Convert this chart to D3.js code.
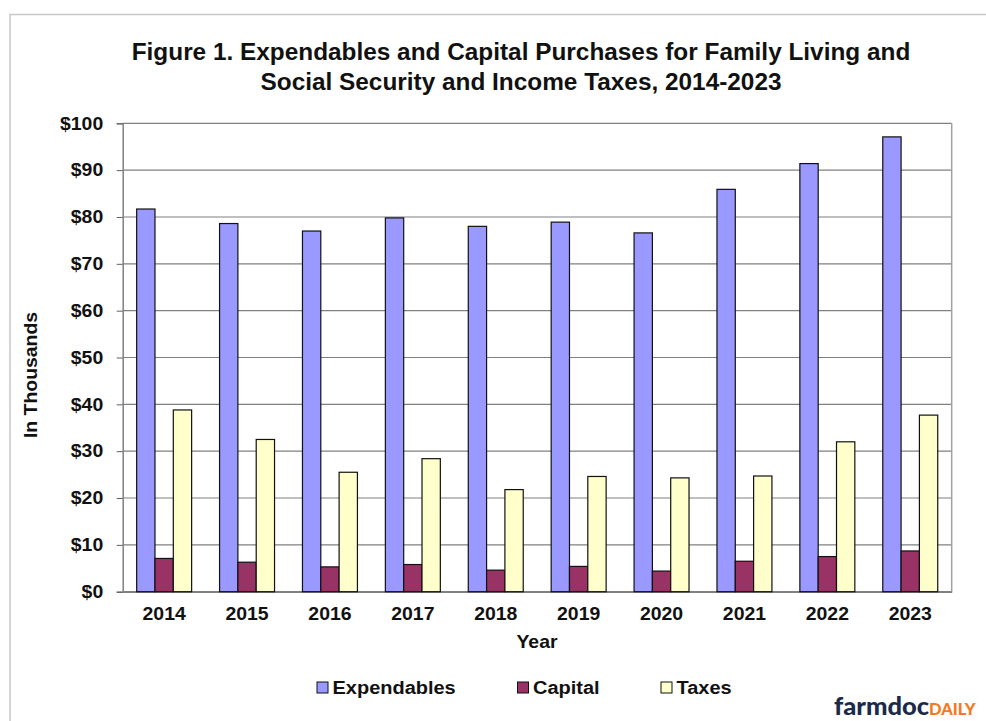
<!DOCTYPE html>
<html>
<head>
<meta charset="utf-8">
<script src="https://cdn.jsdelivr.net/npm/d3@7"></script>
<style>
  body { margin: 0; background: #fff; }
  svg { display: block; font-family: Arial, "Liberation Sans", sans-serif; }
</style>
</head>
<body>
<svg id="chart" width="986" height="721"></svg>
<script>
// data (thousands of dollars)
const years = ['2014', '2015', '2016', '2017', '2018', '2019', '2020', '2021', '2022', '2023']
const seriesNames = ['Expendables', 'Capital', 'Taxes']
const expendables = [81.7, 78.6, 77.0, 79.8, 78.0, 78.9, 76.6, 85.9, 91.4, 97.1]
const capital = [7.1, 6.3, 5.3, 5.8, 4.6, 5.4, 4.4, 6.5, 7.5, 8.7]
const taxes = [38.8, 32.5, 25.5, 28.4, 21.8, 24.6, 24.3, 24.7, 32.0, 37.7]
const yTicks = [0, 10, 20, 30, 40, 50, 60, 70, 80, 90, 100]
const colors = ['#9999ff', '#993366', '#ffffcc']

const values = [expendables, capital, taxes]
const rows = years.map((year, i) => ({
    year,
    bars: seriesNames.map((name, s) => ({ name, value: values[s][i] }))
}))

const plotLeft = 122.7, plotRight = 951.7, plotTop = 123.3, plotBottom = 591.7
const stretch = 1.08 // the source text is a little wider than Liberation Sans

const svg = d3.select('#chart')

// outer frame
svg.append('path')
    .attr('d', 'M10,1000 V14.5 H1000')
    .attr('fill', 'none')
    .attr('stroke', '#c8c8c8')
    .attr('stroke-width', 1.5)

const x0 = d3.scaleBand()
    .domain(years)
    .range([plotLeft, plotRight])
    .paddingInner(0.337)
    .paddingOuter(0.1685)

const x1 = d3.scaleBand()
    .domain(seriesNames)
    .range([0, x0.bandwidth()])

const y = d3.scaleLinear()
    .domain([0, 100])
    .range([plotBottom, plotTop])

const color = d3.scaleOrdinal().domain(seriesNames).range(colors)

// gridlines
svg.append('g')
    .selectAll('line')
    .data(yTicks)
    .enter()
    .append('line')
    .attr('x1', plotLeft)
    .attr('x2', plotRight)
    .attr('y1', d => y(d))
    .attr('y2', d => y(d))
    .attr('stroke', '#808080')
    .attr('stroke-width', 1.2)

// plot frame (right side)
svg.append('line')
    .attr('x1', plotRight).attr('x2', plotRight)
    .attr('y1', plotTop).attr('y2', plotBottom)
    .attr('stroke', '#a0a0a0')
    .attr('stroke-width', 1.5)

// y axis
const yAxis = svg.append('g')
    .attr('transform', `translate(${plotLeft},0)`)
    .call(d3.axisLeft(y).tickValues(yTicks).tickSize(6).tickFormat(d => `$${d}`))

yAxis.select('.domain').attr('stroke', '#808080').attr('stroke-width', 1.5)
yAxis.selectAll('.tick line').attr('stroke', '#606060')
yAxis.selectAll('text')
    .attr('x', -19.5 / stretch)
    .attr('transform', `scale(${stretch},1)`)
    .attr('font-size', 18)
    .attr('font-weight', 'bold')
    .attr('fill', '#111')
    .attr('font-family', 'Arial, "Liberation Sans", sans-serif')

// x axis
const xAxis = svg.append('g')
    .attr('transform', `translate(0,${plotBottom})`)
    .call(d3.axisBottom(x0).tickSize(0).tickPadding(16))

xAxis.select('.domain').attr('stroke', '#808080').attr('stroke-width', 1.5)
xAxis.selectAll('text')
    .attr('transform', `scale(${stretch},1)`)
    .attr('font-size', 18)
    .attr('font-weight', 'bold')
    .attr('fill', '#111')
    .attr('font-family', 'Arial, "Liberation Sans", sans-serif')

// bars
const group = svg.append('g')
    .selectAll('g')
    .data(rows)
    .enter()
    .append('g')
    .attr('transform', d => `translate(${x0(d.year)},0)`)

group.selectAll('rect')
    .data(d => d.bars)
    .enter()
    .append('rect')
    .attr('x', d => x1(d.name))
    .attr('width', x1.bandwidth())
    .attr('y', d => y(d.value))
    .attr('height', d => y(0) - y(d.value))
    .attr('fill', d => color(d.name))
    .attr('stroke', '#111')
    .attr('stroke-width', 1.2)

// title
const title = svg.append('text')
    .attr('transform', 'translate(521,0) scale(1.06,1)')
    .attr('text-anchor', 'middle')
    .attr('font-size', 23)
    .attr('font-weight', 'bold')
    .attr('fill', '#111')
title.append('tspan').attr('x', 0).attr('y', 60)
    .text('Figure 1. Expendables and Capital Purchases for Family Living and')
title.append('tspan').attr('x', 0).attr('y', 90)
    .text('Social Security and Income Taxes, 2014-2023')

// axis titles
svg.append('text')
    .attr('transform', `translate(537,648) scale(${stretch},1)`)
    .attr('text-anchor', 'middle')
    .attr('font-size', 18)
    .attr('font-weight', 'bold')
    .attr('fill', '#111')
    .text('Year')

svg.append('text')
    .attr('transform', `translate(37,375) rotate(-90) scale(${stretch},1)`)
    .attr('text-anchor', 'middle')
    .attr('font-size', 18)
    .attr('font-weight', 'bold')
    .attr('fill', '#111')
    .text('In Thousands')

// legend
const legendX = [317, 517.5, 661]
const legend = svg.append('g')
    .selectAll('g')
    .data(seriesNames)
    .enter()
    .append('g')
    .attr('transform', (d, i) => `translate(${legendX[i]},682)`)

legend.append('rect')
    .attr('width', 11).attr('height', 11)
    .attr('fill', d => color(d))
    .attr('stroke', '#111')
    .attr('stroke-width', 1)

legend.append('text')
    .attr('transform', `translate(15.5,11.5) scale(${stretch},1)`)
    .attr('font-size', 18.5)
    .attr('font-weight', 'bold')
    .attr('fill', '#111')
    .text(d => d)

// logo
const logo = svg.append('text')
    .attr('x', 834).attr('y', 715)
    .attr('font-family', 'Lato, "Open Sans", sans-serif')
    .attr('font-weight', 900)
logo.append('tspan').attr('font-size', 25.5).attr('fill', '#1c2a4a').text('farmdoc')
logo.append('tspan').attr('font-size', 16.5).attr('fill', '#f47920').text('DAILY')
</script>
</body>
</html>
